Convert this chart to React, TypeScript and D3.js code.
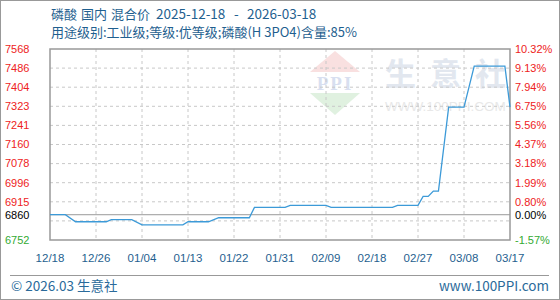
import React from "react";
import * as d3 from "d3";

const dates = [
  "2025-12-18", "2025-12-21", "2025-12-23", "2025-12-29", "2025-12-30",
  "2026-01-03", "2026-01-05", "2026-01-13", "2026-01-14", "2026-01-18",
  "2026-01-20", "2026-01-26", "2026-01-27", "2026-02-02", "2026-02-03",
  "2026-02-10", "2026-02-11", "2026-02-23", "2026-02-24", "2026-02-28",
  "2026-03-01", "2026-03-02", "2026-03-03", "2026-03-04", "2026-03-06",
  "2026-03-09", "2026-03-11", "2026-03-17", "2026-03-18",
];
const prices = [
  6860, 6860, 6830, 6830, 6839,
  6839, 6817, 6817, 6830, 6830,
  6847, 6847, 6891, 6891, 6900,
  6900, 6891, 6891, 6900, 6900,
  6938, 6938, 6961, 6961, 7320,
  7320, 7495, 7495, 7320,
];
const xLabels = ["12/18", "12/26", "01/04", "01/13", "01/22", "01/31", "02/09", "02/18", "02/27", "03/08", "03/17"];
const yTicks = [7568, 7486.4, 7404.8, 7323.2, 7241.6, 7160, 7078.4, 6996.8, 6915.2, 6833.6, 6752];
const basePrice = 6860;
const titleWords = ["磷酸", "国内", "混合价", "2025-12-18", "-", "2026-03-18"];
const titleLine2 = "用途级别:工业级;等级:优等级;磷酸(H 3PO4)含量:85%";
const brandChars = ["生", "意", "社"];

const W = 560, H = 300;
const L = 50, R = 510, T = 49, B = 240;
const titleX = [51, 81, 111, 156, 234, 247];

export default function App() {
  const parse = d3.timeParse("%Y-%m-%d");
  const data = dates.map((d, i) => ({ date: parse(d) as Date, v: prices[i] }));
  const x = d3.scaleTime().domain([data[0].date, data[data.length - 1].date]).range([L, R]);
  const y = d3.scaleLinear().domain([6752, 7568]).range([B, T]);
  const xl = d3.scalePoint<string>().domain(xLabels).range([L, R]);
  const line = d3.line<{ date: Date; v: number }>().x((d) => x(d.date)).y((d) => y(d.v));
  const numFont = "'Liberation Sans', Arial, sans-serif";
  const cjk = "'Noto Sans CJK SC', 'Noto Sans', sans-serif";
  const blue = "#1f5f8f";

  const pct = (v: number) => (((v - basePrice) / basePrice) * 100).toFixed(2) + "%";
  const labelColor = (v: number) => (v < basePrice ? "#33aa33" : "#ee2222");

  return (
    <>
      <style>{`body{margin:0}`}</style>
      <svg width={W} height={H} style={{ display: "block", position: "absolute", left: 0, top: 0 }}>
        <rect x={0.5} y={0.5} width={W - 1} height={H - 1} fill="#fff" stroke="#999" />
        {/* watermark */}
        <g>
          <path d={`M335,51 L360,72 L310,72 Z`} fill="#f9e0e0" />
          <path d={`M310,93 L360,93 L335,115 Z`} fill="#e0f1e0" />
          <text x={335} y={90} textAnchor="middle" fontFamily="'Liberation Serif', serif" fontWeight="bold" fontSize={19} fill="#d8dff0" letterSpacing={2}>PPI</text>
          {brandChars.map((c, i) => (
            <text key={c} x={385 + i * 45} y={85} fontFamily={cjk} fontWeight="bold" fontSize={31} fill="#e2e7ef">{c}</text>
          ))}
          <text x={385} y={111} fontFamily="'Liberation Sans', Arial, sans-serif" fontSize={13.5} fill="#e8e8e8">WWW.100PPI.COM</text>
        </g>
        {/* grid */}
        {yTicks.slice(1, -1).map((t) => (
          <line key={"h" + t} x1={L} x2={R} y1={y(t)} y2={y(t)} stroke="#c8c8c8" strokeDasharray="3,3" />
        ))}
        {xLabels.slice(1, -1).map((l) => (
          <line key={"v" + l} x1={xl(l)} x2={xl(l)} y1={T} y2={B} stroke="#c8c8c8" strokeDasharray="3,3" />
        ))}
        <line x1={L} x2={R} y1={y(basePrice)} y2={y(basePrice)} stroke="#999" />
        <rect x={L} y={T} width={R - L} height={B - T} fill="none" stroke="#999" strokeWidth={1.5} />
        {/* line */}
        <path d={line(data) || ""} fill="none" stroke="#3c9ad8" strokeWidth={1.3} />
        {/* y labels */}
        {yTicks.map((t, i) =>
          i === 9 ? null : (
            <g key={"yl" + t}>
              <text x={5} y={y(t)} dy="0.35em" fontFamily={numFont} fontSize={11} fill={labelColor(t)}>
                {Math.floor(t)}
              </text>
              <text x={515} y={y(t)} dy="0.35em" fontFamily={numFont} fontSize={11} fill={labelColor(t)}>
                {pct(t)}
              </text>
            </g>
          )
        )}
        <text x={5} y={y(basePrice)} dy="0.35em" fontFamily={numFont} fontSize={11} fill="#000">{basePrice}</text>
        <text x={515} y={y(basePrice)} dy="0.35em" fontFamily={numFont} fontSize={11} fill="#000">{pct(basePrice)}</text>
        {/* x labels */}
        {xLabels.map((l) => (
          <text key={"xl" + l} x={xl(l)} y={262} textAnchor="middle" fontFamily={numFont} fontSize={11.5} fill={blue}>{l}</text>
        ))}
        {/* titles */}
        <text y={19} fontFamily={cjk} fontSize={13} fill={blue}>
          {titleWords.map((w, i) => (
            <tspan key={i} x={titleX[i]} fontSize={i >= 3 ? 13.5 : 13}>{w}</tspan>
          ))}
        </text>
        <text x={51} y={37} fontFamily={cjk} fontSize={13} fill={blue}>{titleLine2}</text>
        {/* footer */}
        <line x1={10} x2={549} y1={275.5} y2={275.5} stroke="#999" />
        <text x={11} y={291} fontFamily={cjk} fontSize={13.5} fill="#2a6a9a">© 2026.03 生意社</text>
        <text x={549} y={291} textAnchor="end" fontFamily={cjk} fontSize={13.5} fill="#2a6a9a">www.100PPI.com</text>
      </svg>
    </>
  );
}
